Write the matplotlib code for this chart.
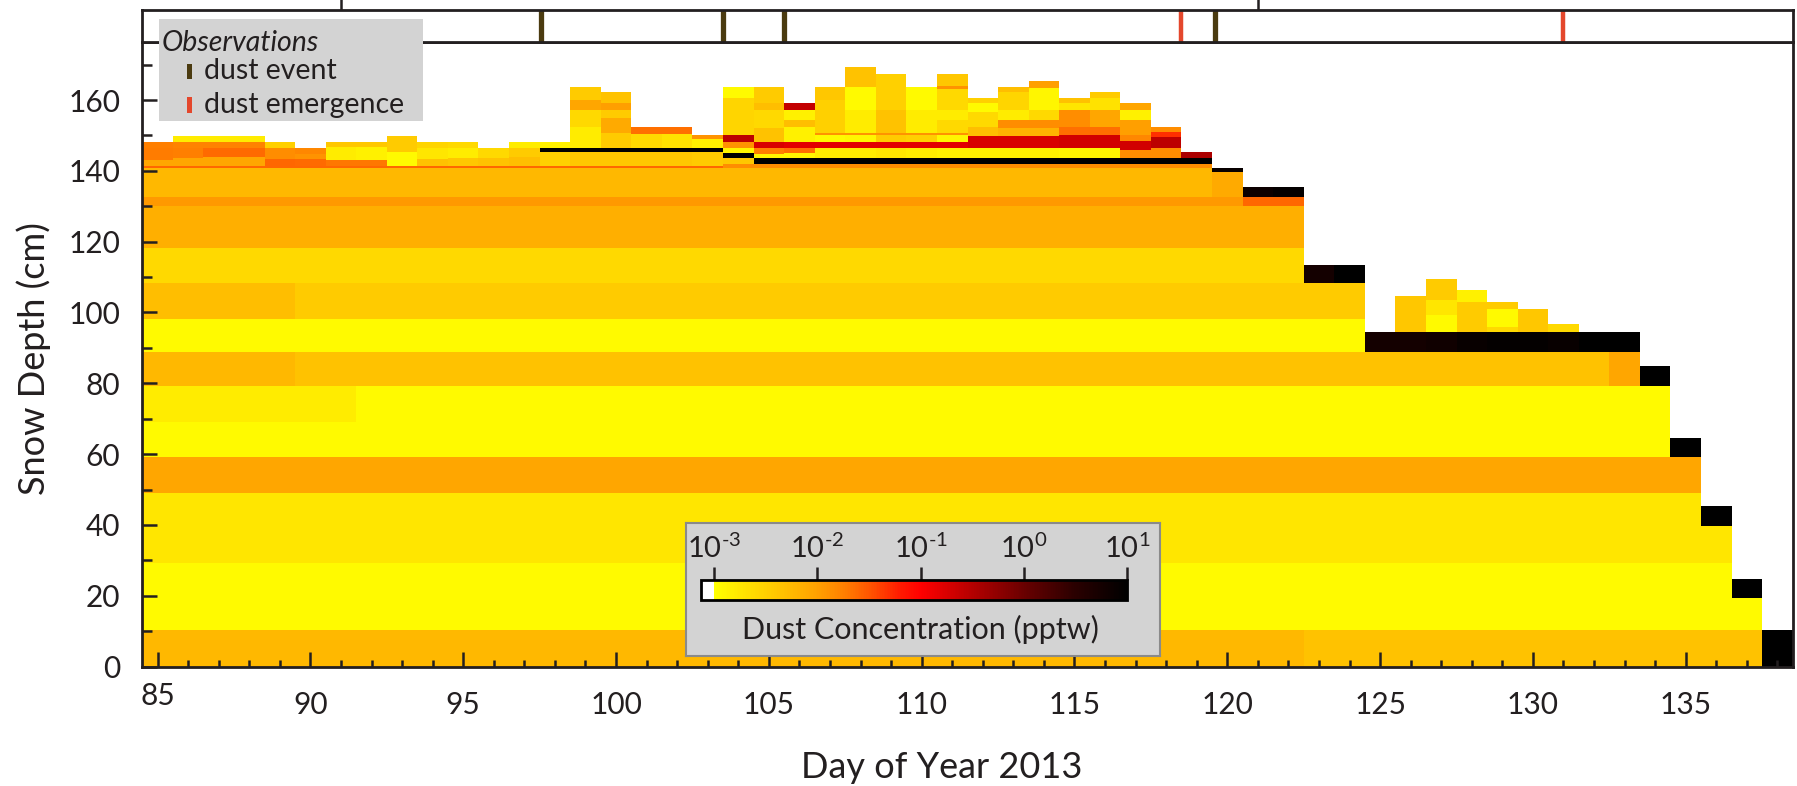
import numpy as np
import matplotlib
matplotlib.use("Agg")
import matplotlib.pyplot as plt
import matplotlib.cm as cm
from matplotlib.colors import LinearSegmentedColormap, Normalize
from matplotlib.patches import Rectangle
from matplotlib.ticker import MultipleLocator

plt.rcParams['font.family'] = ['Lato', 'DejaVu Sans']
plt.rcParams['mathtext.fontset'] = 'custom'
plt.rcParams['mathtext.rm'] = 'Lato'
plt.rcParams['mathtext.it'] = 'Lato:italic'
plt.rcParams['text.color'] = '#231f20'
plt.rcParams['axes.labelcolor'] = '#231f20'
plt.rcParams['xtick.color'] = '#231f20'
plt.rcParams['ytick.color'] = '#231f20'

# ---- data ---------------------------------------------------------------
days = list(range(85, 139))

# persistent snowpack layers (cm) and their log10 dust concentration (pptw)
base_edges = [0, 10.3, 29.3, 49.1, 59.1, 69.2, 79.2, 88.9, 98.3, 108.2, 118.1, 130.2, 132.7, 140.7]
base_logc = [-2.25, -2.95, -2.75, -2.05, -2.95, -2.95, -2.35, -2.95, -2.45, -2.6, -2.15, -1.95, -2.25]

# (first day, last day, layer index, log10 c)
base_overrides = [
    (123, 137, 0, -2.35),
    (85, 91, 5, -2.8),
    (85, 89, 6, -2.25),
    (133, 133, 6, -2.05),
    (85, 89, 8, -2.3),
    (120, 120, 12, -2.1),
    (121, 122, 11, -1.6),
]

# height of the remaining old pack for each day
pack_top = [140.7] * 35 + [139.6, 132.7, 132.7, 108.2, 108.2] + [88.9] * 9 + [79.2, 59.1, 39.7, 19.3, 0.0]

# layers stacked above the old pack for each day: (top cm, log10 c)
overlays = [
    [(141.5, -1.6), (143.2, -2.05), (146.4, -1.72), (148.3, -1.75)],                       # 85
    [(141.5, -1.6), (143.6, -2.05), (146.4, -1.75), (148.3, -1.78), (149.9, -2.8)],        # 86
    [(141.5, -1.6), (143.8, -2.05), (146.4, -1.62), (148.3, -1.78), (149.9, -2.8)],        # 87
    [(141.5, -1.6), (143.8, -2.05), (146.4, -1.62), (148.3, -1.78), (149.9, -2.8)],        # 88
    [(141.5, -1.6), (143.4, -1.6), (146.4, -1.85), (148.3, -2.5)],                         # 89
    [(141.5, -1.6), (143.3, -1.62), (144.8, -1.9), (146.4, -1.8)],                         # 90
    [(141.5, -1.6), (143.0, -1.7), (146.8, -2.8), (148.3, -2.4)],                          # 91
    [(141.5, -1.6), (143.0, -1.7), (146.8, -2.85), (148.3, -2.4)],                         # 92
    [(141.5, -1.6), (145.4, -2.95), (149.9, -2.45)],                                       # 93
    [(141.5, -1.6), (143.3, -2.35), (146.4, -2.75), (148.3, -2.55)],                       # 94
    [(141.5, -1.6), (143.6, -2.4), (146.4, -2.8), (148.3, -2.6)],                          # 95
    [(141.5, -1.6), (143.6, -2.35), (146.6, -2.6)],                                        # 96
    [(141.5, -1.6), (144.0, -2.3), (146.4, -2.45), (148.3, -2.8)],                         # 97
    [(141.5, -1.6), (145.3, -2.5), (146.6, 1.0), (148.3, -2.85)],                          # 98
    [(141.5, -1.6), (145.3, -2.4), (146.6, 1.0), (152.5, -2.8), (157.2, -2.6),
     (160.0, -2.05), (163.6, -2.45)],                                                      # 99
    [(141.5, -1.6), (145.3, -2.4), (146.6, 1.0), (150.8, -2.45), (155.0, -2.1),
     (157.2, -2.45), (159.3, -2.0), (162.4, -2.35)],                                       # 100
    [(141.5, -1.6), (145.3, -2.4), (146.6, 1.0), (150.3, -2.6), (152.3, -1.65)],           # 101
    [(141.5, -1.6), (145.3, -2.4), (146.6, 1.0), (150.3, -2.7), (152.3, -1.65)],           # 102
    [(141.5, -1.6), (145.3, -2.45), (146.6, 1.0), (149.0, -2.85), (150.1, -1.9)],          # 103
    [(141.9, -1.85), (143.7, -2.4), (145.1, 1.0), (146.4, -2.9), (148.3, -1.9),
     (150.0, -0.55), (160.5, -2.55), (163.6, -2.95)],                                      # 104
    [(141.9, -1.85), (143.6, 1.0), (144.9, -2.9), (146.4, -1.75), (148.3, -0.75),
     (152.0, -2.35), (157.2, -2.6), (159.3, -2.3), (163.6, -2.45)],                        # 105
    [(141.9, -1.85), (143.6, 1.0), (145.0, -2.9), (146.4, -1.65), (148.3, -0.8),
     (152.5, -2.85), (154.4, -2.3), (157.2, -2.85), (159.3, -0.6)],                        # 106
    [(141.9, -1.85), (143.6, 1.0), (146.4, -2.8), (148.3, -0.8), (150.2, -2.95),
     (150.7, -1.9), (160.0, -2.5), (163.6, -2.4)],                                         # 107
    [(141.9, -1.85), (143.6, 1.0), (146.4, -2.8), (148.3, -0.8), (150.2, -2.9),
     (150.7, -1.9), (157.2, -2.8), (163.8, -2.95), (169.4, -2.35)],                        # 108
    [(141.9, -1.85), (143.6, 1.0), (146.4, -2.75), (148.3, -0.8), (150.2, -2.45),
     (150.7, -1.9), (157.2, -2.35), (167.4, -2.5)],                                        # 109
    [(141.9, -1.85), (143.6, 1.0), (146.4, -2.8), (148.3, -0.8), (150.2, -2.5),
     (150.7, -1.9), (157.2, -2.8), (163.6, -2.95)],                                        # 110
    [(141.9, -1.85), (143.6, 1.0), (146.4, -2.85), (148.3, -0.8), (150.2, -2.9),
     (150.7, -1.9), (154.5, -2.6), (157.2, -2.8), (163.0, -2.6), (164.0, -1.9),
     (167.4, -2.4)],                                                                       # 111
    [(141.9, -1.85), (143.6, 1.0), (146.4, -2.85), (149.8, -0.75), (152.5, -2.3),
     (156.6, -2.6), (159.1, -2.95), (160.5, -2.5)],                                        # 112
    [(141.9, -1.85), (143.6, 1.0), (146.4, -2.85), (149.8, -0.75), (152.0, -2.2),
     (154.4, -1.85), (157.2, -2.8), (162.3, -2.55), (163.6, -2.3)],                        # 113
    [(141.9, -1.85), (143.6, 1.0), (146.4, -2.85), (149.8, -0.75), (152.0, -2.2),
     (154.4, -1.85), (157.2, -2.6), (163.3, -2.9), (165.4, -2.0)],                         # 114
    [(141.9, -1.85), (143.6, 1.0), (146.4, -2.9), (150.1, -0.7), (152.5, -1.65),
     (157.2, -1.85), (159.1, -2.75), (160.5, -2.35)],                                      # 115
    [(141.9, -1.85), (143.6, 1.0), (146.4, -2.9), (150.1, -0.7), (152.5, -1.65),
     (157.2, -2.05), (160.5, -2.7), (162.4, -2.45)],                                       # 116
    [(141.9, -1.85), (143.6, 1.0), (145.9, -1.85), (148.5, -0.7), (150.1, -1.8),
     (154.4, -2.0), (157.2, -2.85), (159.3, -2.05)],                                       # 117
    [(141.9, -1.85), (143.6, 1.0), (146.4, -1.85), (149.7, -0.55), (151.1, -1.3),
     (152.4, -1.85)],                                                                      # 118
    [(141.9, -1.85), (143.6, 1.0), (145.4, -0.45)],                                        # 119
    [(140.8, 0.9)],                                                                        # 120
    [(135.5, 0.85)],                                                                       # 121
    [(135.5, 0.95)],                                                                       # 122
    [(113.4, 0.75)],                                                                       # 123
    [(113.4, 1.0)],                                                                        # 124
    [(94.6, 0.75)],                                                                        # 125
    [(94.6, 0.75), (104.7, -2.4)],                                                         # 126
    [(94.6, 0.8), (99.3, -2.95), (103.5, -2.75), (109.5, -2.45)],                          # 127
    [(94.6, 0.9), (103.1, -2.45), (106.4, -2.85)],                                         # 128
    [(94.6, 0.95), (95.9, -2.6), (101.0, -2.95), (103.1, -2.45)],                          # 129
    [(94.6, 0.95), (101.0, -2.4)],                                                         # 130
    [(94.6, 0.9), (96.8, -2.6)],                                                           # 131
    [(94.6, 1.0)],                                                                         # 132
    [(94.6, 1.0)],                                                                         # 133
    [(84.9, 1.0)],                                                                         # 134
    [(64.6, 1.0)],                                                                         # 135
    [(45.3, 1.0)],                                                                         # 136
    [(24.7, 1.0)],                                                                         # 137
    [(10.3, 1.0)],                                                                         # 138
]

dust_event_days = [97.55, 103.5, 105.5, 119.6]
emergence_days = [118.5, 131.0]
month_starts = [91, 121]

cbar_ticks = [-3, -2, -1, 0, 1]

# ---- colour map (log10 pptw) --------------------------------------------
cmap_levels = [-3.0, -2.75, -2.5, -2.25, -2.0, -1.75, -1.5, -1.2, -1.0, -0.5, 0.0, 0.5, 1.0]
cmap_colors = ['#ffff00', '#ffe600', '#ffd000', '#ffb800', '#ffa000', '#ff8000',
               '#ff5500', '#ff1a00', '#ff0000', '#b40000', '#6a0000', '#2a0000', '#000000']
vmin, vmax = -3.0, 1.0
dust_cmap = LinearSegmentedColormap.from_list(
    'dust', [((v - vmin) / (vmax - vmin), c) for v, c in zip(cmap_levels, cmap_colors)])
dust_cmap.set_under('white')
dust_cmap.set_bad((1, 1, 1, 0))
norm = Normalize(vmin, vmax)


def column_layers(i):
    d = days[i]
    layers = []
    for k in range(len(base_logc)):
        bot, top = base_edges[k], base_edges[k + 1]
        if bot >= pack_top[i]:
            break
        val = base_logc[k]
        for d0, d1, layer, v in base_overrides:
            if layer == k and d0 <= d <= d1:
                val = v
        layers.append((bot, min(top, pack_top[i]), val))
    bot = pack_top[i]
    for top, val in overlays[i]:
        layers.append((bot, top, val))
        bot = top
    return layers


columns = [column_layers(i) for i in range(len(days))]
y_edges = np.unique(np.round([b for col in columns for lay in col for b in lay[:2]], 2))
y_mid = 0.5 * (y_edges[:-1] + y_edges[1:])
grid = np.full((len(y_mid), len(days)), np.nan)
for i, col in enumerate(columns):
    for bot, top, val in col:
        grid[(y_mid > bot) & (y_mid < top), i] = val
x_edges = np.arange(days[0] - 0.5, days[-1] + 1.0, 1.0)

# ---- figure -------------------------------------------------------------
W, H = 1797, 786
fig = plt.figure(figsize=(W / 100, H / 100), dpi=100)

ax = fig.add_axes([142.3 / W, 1 - 666.5 / H, 1650.4 / W, 624.5 / H])
ax.pcolormesh(x_edges, y_edges, np.ma.masked_invalid(grid), cmap=dust_cmap, norm=norm,
              shading='flat', linewidth=0, antialiased=False)
ax.set_xlim(84.5, 138.5)
ax.set_ylim(0, 624.5 / 3.54)
ax.set_xticks(range(85, 136, 5))
ax.xaxis.set_minor_locator(MultipleLocator(1))
ax.set_yticks(range(0, 161, 20))
ax.set_yticks(range(10, 171, 20), minor=True)
ax.tick_params(axis='both', which='both', direction='in', width=1.8, labelsize=21.5)
ax.tick_params(axis='x', which='major', length=11, pad=18)
ax.tick_params(axis='x', which='minor', length=5)
ax.tick_params(axis='y', which='major', length=11, pad=16)
ax.tick_params(axis='y', which='minor', length=7)
ax.xaxis.get_major_ticks()[0].set_pad(11.5)
for s in ax.spines.values():
    s.set_linewidth(2)
    s.set_color('#231f20')

ax.set_xlabel('Day of Year 2013', fontsize=26, va='baseline')
ax.xaxis.set_label_coords((942 - 142.3) / 1650.4, (666.5 - 778) / 624.5)
ax.set_ylabel('Snow Depth (cm)', fontsize=26, va='baseline')
ax.yaxis.set_label_coords((44.6 - 142.3) / 1650.4, 0.493)

# observation strip above the profile
strip = fig.add_axes([142.3 / W, 1 - 42 / H, 1650.4 / W, 32.5 / H])
strip.set_xlim(ax.get_xlim())
strip.set_ylim(0, 1)
strip.set_yticks([])
strip.set_xticks(month_starts)
strip.xaxis.set_ticks_position('top')
strip.tick_params(axis='x', direction='out', length=14, width=1.8, labeltop=False, labelbottom=False)
strip.vlines(dust_event_days, 0, 1, colors='#4b3b10', linewidth=3.8)
strip.vlines(emergence_days, 0, 1, colors='#e4472c', linewidth=3.2)
for s in strip.spines.values():
    s.set_linewidth(2)
    s.set_color('#231f20')

# observations key
leg = fig.add_axes([159.3 / W, 1 - 120.7 / H, 263.4 / W, 101.4 / H], zorder=5)
leg.set_facecolor('#d3d3d3')
leg.set_xlim(0, 1)
leg.set_ylim(0, 1)
leg.set_xticks([])
leg.set_yticks([])
for s in leg.spines.values():
    s.set_visible(False)
leg.text(0.01, 0.69, 'Observations', style='italic', fontsize=20.5, va='baseline')
leg.add_patch(Rectangle((0.104, 0.411), 0.019, 0.148, color='#4b3b10', lw=0))
leg.add_patch(Rectangle((0.104, 0.076), 0.019, 0.158, color='#e4472c', lw=0))
leg.text(0.17, 0.411, 'dust event', fontsize=20.5, va='baseline')
leg.text(0.17, 0.073, 'dust emergence', fontsize=20.5, va='baseline')

# colour bar in a grey box
box = fig.add_axes([685.5 / W, 1 - 656 / H, 474.3 / W, 133 / H], zorder=5)
box.set_facecolor('#d3d3d3')
box.set_xticks([])
box.set_yticks([])
for s in box.spines.values():
    s.set_color('#8a8a8a')
    s.set_linewidth(1.5)

cax = fig.add_axes([700.7 / W, 1 - 600 / H, 426.6 / W, 20 / H], zorder=6)
sm = cm.ScalarMappable(norm=norm, cmap=dust_cmap)
cbar = fig.colorbar(sm, cax=cax, orientation='horizontal', extend='min',
                    extendrect=True, extendfrac=0.0327, ticks=cbar_ticks)
cbar.outline.set_linewidth(2)
cbar.set_ticklabels([r'$\mathregular{10^{%s}}$' % str(t).replace('-', '\u2010') for t in cbar_ticks])
cax.xaxis.set_ticks_position('top')
cax.tick_params(axis='x', direction='out', length=9.6, width=1.8, labelsize=21, pad=3)
cax.set_xlabel('Dust Concentration (pptw)', fontsize=22, labelpad=11)
cax.xaxis.set_label_position('bottom')

fig.savefig('out.png', dpi=100)
